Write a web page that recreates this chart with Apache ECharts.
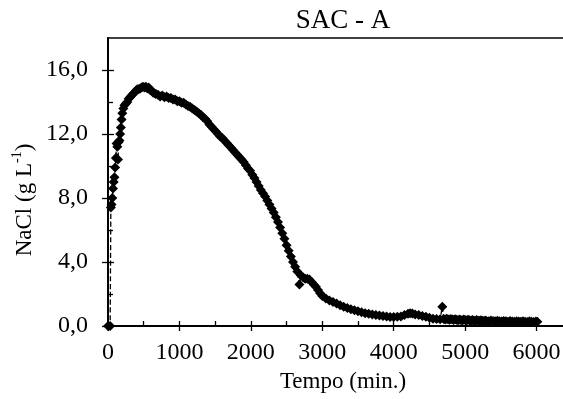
<!DOCTYPE html>
<html><head><meta charset="utf-8">
<script src="https://cdn.jsdelivr.net/npm/echarts@6/dist/echarts.min.js"></script>
<style>html,body{margin:0;padding:0;background:#fff}#c{width:563px;height:399px}</style>
</head><body><div id="c"></div>
<script>
// ---- data ----
const tempo = [
  0, 30, 40, 50, 60, 70, 80, 90, 100, 110, 120, 130, 140, 150, 160, 170, 180, 190, 200, 215,
  230, 250, 270, 290, 310, 330, 350, 370, 390, 410, 430, 450, 470, 490, 510, 530, 550, 570, 590, 610,
  630, 650, 670, 700, 730, 760, 790, 820, 850, 880, 910, 940, 970, 1000, 1030, 1060, 1090, 1120, 1150, 1180,
  1210, 1240, 1270, 1300, 1330, 1360, 1390, 1420, 1450, 1480, 1510, 1540, 1570, 1600, 1630, 1660, 1690, 1720, 1750, 1780,
  1810, 1840, 1870, 1900, 1930, 1960, 1990, 2020, 2050, 2080, 2110, 2140, 2170, 2200, 2230, 2260, 2290, 2320, 2350, 2380,
  2410, 2440, 2470, 2500, 2530, 2560, 2590, 2620, 2650, 2680, 2700, 2730, 2760, 2790, 2820, 2850, 2880, 2910, 2940, 2970,
  3000, 3050, 3100, 3150, 3200, 3250, 3300, 3350, 3400, 3450, 3500, 3550, 3600, 3650, 3700, 3750, 3800, 3850, 3900, 3950,
  4000, 4050, 4100, 4150, 4200, 4230, 4260, 4300, 4350, 4400, 4450, 4500, 4550, 4600, 4650, 4680, 4700, 4720, 4740, 4760,
  4780, 4800, 4820, 4840, 4860, 4880, 4900, 4920, 4940, 4960, 4980, 5000, 5020, 5040, 5060, 5080, 5100, 5120, 5140, 5160,
  5180, 5200, 5220, 5240, 5260, 5280, 5300, 5330, 5360, 5390, 5420, 5450, 5480, 5510, 5540, 5570, 5600, 5630, 5660, 5690,
  5720, 5750, 5780, 5810, 5840, 5870, 5900, 5930, 5960, 5990, 6010
];
const nacl = [
  0.0, 0.0, 7.4, 7.6, 8.0, 8.6, 9.0, 9.3, 9.9, 10.5, 11.4, 11.2, 10.4, 11.5, 11.6, 12.0, 12.4, 12.9, 13.3, 13.6,
  13.8, 13.9, 14.0, 14.2, 14.3, 14.4, 14.5, 14.6, 14.7, 14.8, 14.8, 14.85, 14.9, 14.95, 14.9, 14.95, 14.85, 14.9, 14.75, 14.7,
  14.6, 14.55, 14.5, 14.45, 14.35, 14.4, 14.3, 14.35, 14.25, 14.25, 14.15, 14.15, 14.05, 14.05, 13.95, 13.95, 13.85, 13.75, 13.7, 13.6,
  13.5, 13.4, 13.3, 13.2, 13.05, 12.95, 12.8, 12.6, 12.45, 12.3, 12.15, 12.0, 11.85, 11.75, 11.6, 11.45, 11.3, 11.15, 11.0, 10.85,
  10.7, 10.55, 10.4, 10.25, 10.05, 9.85, 9.7, 9.45, 9.25, 9.0, 8.75, 8.5, 8.3, 8.1, 7.85, 7.6, 7.35, 7.1, 6.8, 6.5,
  6.15, 5.8, 5.45, 5.05, 4.7, 4.35, 4.0, 3.7, 3.4, 2.6, 3.15, 3.05, 2.95, 2.95, 2.9, 2.75, 2.6, 2.45, 2.25, 2.05,
  1.88, 1.72, 1.6, 1.5, 1.4, 1.3, 1.2, 1.12, 1.05, 0.98, 0.92, 0.86, 0.8, 0.76, 0.72, 0.68, 0.65, 0.62, 0.6, 0.57,
  0.56, 0.58, 0.6, 0.68, 0.76, 0.8, 0.78, 0.72, 0.68, 0.62, 0.58, 0.52, 0.46, 0.44, 0.42, 1.2, 0.44, 0.41, 0.46, 0.42,
  0.39, 0.44, 0.40, 0.37, 0.42, 0.39, 0.36, 0.41, 0.38, 0.35, 0.40, 0.37, 0.34, 0.39, 0.36, 0.33, 0.38, 0.35, 0.32, 0.37,
  0.34, 0.31, 0.36, 0.33, 0.30, 0.35, 0.32, 0.30, 0.34, 0.31, 0.29, 0.33, 0.30, 0.28, 0.32, 0.29, 0.27, 0.31, 0.28, 0.26,
  0.30, 0.28, 0.26, 0.30, 0.27, 0.25, 0.29, 0.27, 0.25, 0.28, 0.26
];
const xRange = [0, 7000];     // axis extent (right part is cropped in the reference)
const xStep = 1000;
const yRange = [0, 18];
const yTickMax = 16;
const yStep = 4;
const titleText = 'SAC - A';
const xName = 'Tempo (min.)';

// ---- chart ----
const FONT = '"Liberation Serif", "Times New Roman", serif';
const chart = echarts.init(document.getElementById('c'), null, {renderer: 'canvas'});
const fmtY = v => v.toFixed(1).replace('.', ',');
const fmtX = v => String(v);
const tickStyle = {color: '#000', width: 1.3};
const common = {left: 108, width: 500, bottom: 73, outerBoundsMode: 'none', containLabel: false};

chart.setOption({
  animation: false,
  backgroundColor: '#fff',
  grid: [
    Object.assign({top: 38, show: true, borderColor: '#000', borderWidth: 1.5}, common),
    Object.assign({top: 70}, common),
    Object.assign({top: 70}, common)
  ],
  xAxis: [
    {gridIndex: 0, type: 'value', min: xRange[0], max: xRange[1], interval: xStep,
     axisLine: {show: true, onZero: false, lineStyle: {color: '#000', width: 2}},
     axisTick: {show: false}, axisLabel: {show: false}, splitLine: {show: false}},
    {gridIndex: 1, type: 'value', min: xRange[0], max: xRange[1], interval: xStep,
     axisLine: {show: false}, splitLine: {show: false},
     axisTick: {show: true, length: 5, lineStyle: tickStyle},
     axisLabel: {show: true, margin: 15, fontSize: 24, fontFamily: FONT, color: '#000', showMaxLabel: false, formatter: fmtX}},
    {gridIndex: 2, type: 'value', min: xRange[0], max: xRange[1], interval: xStep,
     axisLine: {show: false}, splitLine: {show: false}, axisLabel: {show: false},
     axisTick: {show: true, inside: true, length: 5, lineStyle: tickStyle},
     minorTick: {show: true, splitNumber: 2, length: 5, lineStyle: tickStyle}}
  ],
  yAxis: [
    {gridIndex: 0, type: 'value', min: yRange[0], max: yRange[1],
     axisLine: {show: true, onZero: false, lineStyle: {color: '#000', width: 2}},
     axisTick: {show: false}, axisLabel: {show: false}, splitLine: {show: false}},
    {gridIndex: 1, type: 'value', min: yRange[0], max: yTickMax, interval: yStep,
     axisLine: {show: false}, splitLine: {show: false},
     axisTick: {show: true, length: 6, lineStyle: tickStyle},
     axisLabel: {show: true, margin: 20, fontSize: 24, fontFamily: FONT, color: '#000', formatter: fmtY}},
    {gridIndex: 2, type: 'value', min: yRange[0], max: yTickMax, interval: yStep,
     axisLine: {show: false}, splitLine: {show: false}, axisLabel: {show: false},
     axisTick: {show: true, inside: true, length: 6, lineStyle: tickStyle},
     minorTick: {show: true, splitNumber: 2, length: 5, lineStyle: tickStyle}}
  ],
  series: [{
    type: 'line', xAxisIndex: 0, yAxisIndex: 0,
    data: tempo.map((t, i) => [t, nacl[i]]),
    symbol: 'diamond', symbolSize: 10, showSymbol: true, clip: false,
    itemStyle: {color: '#000'},
    lineStyle: {color: '#000', width: 1.3, type: 'dashed'}
  }],
  graphic: [
    {type: 'text', x: 343, y: 21,
     style: {text: titleText, fontSize: 27, fontFamily: FONT, fill: '#000', align: 'center', verticalAlign: 'middle'}},
    {type: 'text', x: 343, y: 382,
     style: {text: xName, fontSize: 23, fontFamily: FONT, fill: '#000', align: 'center', verticalAlign: 'middle'}},
    {type: 'text', x: 23, y: 200, rotation: Math.PI / 2,
     style: {
       text: '{a|NaCl (g L}{s|-1}{a|)}', align: 'center', verticalAlign: 'middle',
       rich: {
         a: {fontSize: 23, fontFamily: FONT, fill: '#000', color: '#000', lineHeight: 26, verticalAlign: 'bottom'},
         s: {fontSize: 14, fontFamily: FONT, fill: '#000', color: '#000', lineHeight: 26, verticalAlign: 'top'}
       }
     }}
  ]
});
</script>
</body></html>
